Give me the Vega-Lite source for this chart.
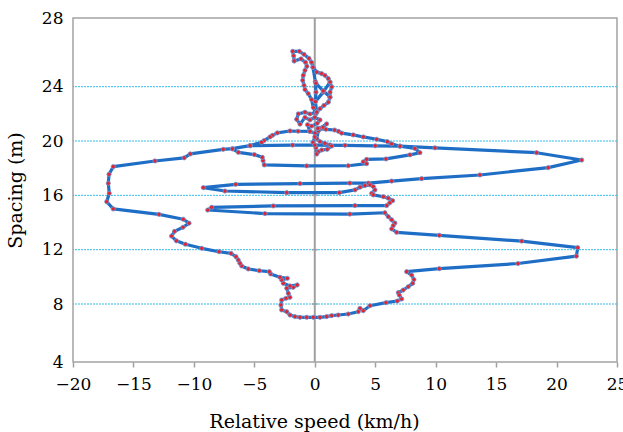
{
  "$schema": "https://vega.github.io/schema/vega-lite/v6.json",
  "width": 544,
  "height": 344,
  "autosize": {"type": "none"},
  "padding": {"left": 73, "top": 18, "right": 6, "bottom": 70},
  "background": "white",
  "config": {
    "view": {"stroke": "#a3a3a3", "strokeWidth": 1.5},
    "font": "DejaVu Serif, serif"
  },
  "datasets": {
    "grid": [{"spacing": 8}, {"spacing": 12}, {"spacing": 16}, {"spacing": 20}, {"spacing": 24}],
    "path": [
      {"s":1,"i":1,"speed":-1.7,"spacing":25.5},{"s":1,"i":2,"speed":-1.75,"spacing":25.8},{"s":1,"i":3,"speed":-1.83,"spacing":26.06},{"s":1,"i":4,"speed":-1.28,"spacing":26.06},{"s":1,"i":5,"speed":-0.89,"spacing":25.88},{"s":1,"i":6,"speed":-0.48,"spacing":25.65},{"s":1,"i":7,"speed":-0.27,"spacing":25.42},{"s":1,"i":8,"speed":-0.15,"spacing":25.13},{"s":1,"i":9,"speed":0.16,"spacing":24.85},{"s":1,"i":10,"speed":0.57,"spacing":24.76},{"s":1,"i":11,"speed":0.84,"spacing":24.66},{"s":1,"i":12,"speed":1.12,"spacing":24.47},{"s":1,"i":13,"speed":1.26,"spacing":24.27},{"s":1,"i":14,"speed":1.4,"spacing":23.98},{"s":1,"i":15,"speed":1.26,"spacing":23.6},{"s":1,"i":16,"speed":1.26,"spacing":23.23},{"s":1,"i":17,"speed":1.12,"spacing":22.86},{"s":1,"i":18,"speed":0.76,"spacing":22.62},{"s":1,"i":19,"speed":0.43,"spacing":22.38},{"s":1,"i":20,"speed":0.16,"spacing":22.13},
      {"s":2,"i":21,"speed":-1.7,"spacing":25.5},{"s":2,"i":22,"speed":-1.14,"spacing":25.62},{"s":2,"i":23,"speed":-0.77,"spacing":25.42},{"s":2,"i":24,"speed":-0.65,"spacing":25.19},{"s":2,"i":25,"speed":-0.81,"spacing":24.95},{"s":2,"i":26,"speed":-0.95,"spacing":24.66},{"s":2,"i":27,"speed":-1.0,"spacing":24.37},{"s":2,"i":28,"speed":-0.89,"spacing":24.08},{"s":2,"i":29,"speed":-0.81,"spacing":23.79},{"s":2,"i":30,"speed":-0.54,"spacing":23.49},{"s":2,"i":31,"speed":-0.26,"spacing":23.05},{"s":2,"i":32,"speed":-0.12,"spacing":22.46},{"s":2,"i":33,"speed":0.1,"spacing":22.0},
      {"s":3,"i":34,"speed":-0.15,"spacing":25.13},{"s":3,"i":35,"speed":0.05,"spacing":24.3},{"s":3,"i":36,"speed":0.1,"spacing":23.6},{"s":3,"i":37,"speed":0.05,"spacing":22.9},{"s":3,"i":38,"speed":0.16,"spacing":22.13},
      {"s":4,"i":39,"speed":0.05,"spacing":22.9},{"s":4,"i":40,"speed":0.7,"spacing":23.6},{"s":4,"i":41,"speed":1.26,"spacing":24.27},
      {"s":5,"i":42,"speed":0.1,"spacing":24.2},{"s":5,"i":43,"speed":0.7,"spacing":23.7},{"s":5,"i":44,"speed":1.26,"spacing":23.23},
      {"s":6,"i":45,"speed":0.16,"spacing":22.13},{"s":6,"i":46,"speed":-0.4,"spacing":21.99},{"s":6,"i":47,"speed":-0.81,"spacing":22.12},{"s":6,"i":48,"speed":-1.36,"spacing":22.0},{"s":6,"i":49,"speed":-1.5,"spacing":21.6},{"s":6,"i":50,"speed":-1.22,"spacing":21.24},{"s":6,"i":51,"speed":-0.81,"spacing":21.74},{"s":6,"i":52,"speed":-0.4,"spacing":21.55},{"s":6,"i":53,"speed":0.0,"spacing":21.75},{"s":6,"i":54,"speed":0.43,"spacing":21.55},{"s":6,"i":55,"speed":0.2,"spacing":21.3},{"s":6,"i":56,"speed":-0.26,"spacing":21.1},{"s":6,"i":57,"speed":-0.6,"spacing":21.2},{"s":6,"i":58,"speed":-0.4,"spacing":20.71},{"s":6,"i":59,"speed":0.02,"spacing":20.58},{"s":6,"i":60,"speed":0.43,"spacing":20.94},{"s":6,"i":61,"speed":0.98,"spacing":21.26},{"s":6,"i":62,"speed":0.7,"spacing":21.0},{"s":6,"i":63,"speed":0.3,"spacing":20.75},{"s":6,"i":64,"speed":0.16,"spacing":20.2},{"s":6,"i":65,"speed":0.43,"spacing":19.95},{"s":6,"i":66,"speed":0.84,"spacing":19.83},{"s":6,"i":67,"speed":1.26,"spacing":19.71},{"s":6,"i":68,"speed":1.4,"spacing":19.63},{"s":6,"i":69,"speed":1.03,"spacing":19.39},{"s":6,"i":70,"speed":0.57,"spacing":19.34},{"s":6,"i":71,"speed":0.29,"spacing":19.21},{"s":6,"i":72,"speed":0.16,"spacing":19.04},{"s":6,"i":73,"speed":0.1,"spacing":19.5},{"s":6,"i":74,"speed":-0.15,"spacing":19.9},{"s":6,"i":75,"speed":0.0,"spacing":20.3},{"s":6,"i":76,"speed":0.26,"spacing":20.93},
      {"s":7,"i":77,"speed":0.26,"spacing":20.93},{"s":7,"i":78,"speed":0.92,"spacing":20.86},{"s":7,"i":79,"speed":1.64,"spacing":20.81},{"s":7,"i":80,"speed":1.97,"spacing":20.71},{"s":7,"i":81,"speed":2.22,"spacing":20.58},{"s":7,"i":82,"speed":3.18,"spacing":20.45},{"s":7,"i":83,"speed":4.01,"spacing":20.3},{"s":7,"i":84,"speed":5.12,"spacing":20.13},{"s":7,"i":85,"speed":6.0,"spacing":19.96},{"s":7,"i":86,"speed":6.36,"spacing":19.79},{"s":7,"i":87,"speed":7.05,"spacing":19.62},
      {"s":8,"i":88,"speed":-0.4,"spacing":20.71},{"s":8,"i":89,"speed":-1.38,"spacing":20.72},{"s":8,"i":90,"speed":-2.05,"spacing":20.74},{"s":8,"i":91,"speed":-3.1,"spacing":20.6},{"s":8,"i":92,"speed":-3.5,"spacing":20.42},{"s":8,"i":93,"speed":-3.7,"spacing":20.3},{"s":8,"i":94,"speed":-4.2,"spacing":20.03},{"s":8,"i":95,"speed":-4.4,"spacing":19.9},{"s":8,"i":96,"speed":-5.35,"spacing":19.66},
      {"s":9,"i":97,"speed":-5.35,"spacing":19.66},{"s":9,"i":98,"speed":-1.83,"spacing":19.7},{"s":9,"i":99,"speed":0.0,"spacing":19.7},{"s":9,"i":100,"speed":2.5,"spacing":19.68},{"s":9,"i":101,"speed":5.0,"spacing":19.65},{"s":9,"i":102,"speed":7.05,"spacing":19.62},{"s":9,"i":103,"speed":9.94,"spacing":19.5},{"s":9,"i":104,"speed":18.35,"spacing":19.14},{"s":9,"i":105,"speed":22.08,"spacing":18.6},{"s":9,"i":106,"speed":19.31,"spacing":18.04},{"s":9,"i":107,"speed":13.66,"spacing":17.5},{"s":9,"i":108,"speed":8.84,"spacing":17.23},{"s":9,"i":109,"speed":6.36,"spacing":17.05},{"s":9,"i":110,"speed":4.43,"spacing":16.9},{"s":9,"i":111,"speed":2.9,"spacing":16.9},{"s":9,"i":112,"speed":-1.22,"spacing":16.87},{"s":9,"i":113,"speed":-6.54,"spacing":16.81},{"s":9,"i":114,"speed":-9.22,"spacing":16.57},{"s":9,"i":115,"speed":-7.43,"spacing":16.32},{"s":9,"i":116,"speed":-2.32,"spacing":16.2},{"s":9,"i":117,"speed":2.03,"spacing":16.2},{"s":9,"i":118,"speed":3.33,"spacing":16.4},{"s":9,"i":119,"speed":3.74,"spacing":16.6},{"s":9,"i":120,"speed":4.15,"spacing":16.72},{"s":9,"i":121,"speed":4.57,"spacing":16.77},{"s":9,"i":122,"speed":4.84,"spacing":16.65},{"s":9,"i":123,"speed":4.98,"spacing":16.4},{"s":9,"i":124,"speed":4.71,"spacing":16.15},{"s":9,"i":125,"speed":4.84,"spacing":16.03},{"s":9,"i":126,"speed":5.67,"spacing":15.9},{"s":9,"i":127,"speed":6.08,"spacing":15.79},{"s":9,"i":128,"speed":6.44,"spacing":15.61},{"s":9,"i":129,"speed":6.2,"spacing":15.45},{"s":9,"i":130,"speed":5.95,"spacing":15.25},{"s":9,"i":131,"speed":3.32,"spacing":15.25},{"s":9,"i":132,"speed":-3.43,"spacing":15.22},{"s":9,"i":133,"speed":-8.53,"spacing":15.12},{"s":9,"i":134,"speed":-8.86,"spacing":14.92},{"s":9,"i":135,"speed":-4.12,"spacing":14.66},{"s":9,"i":136,"speed":2.9,"spacing":14.62},{"s":9,"i":137,"speed":5.8,"spacing":14.72},{"s":9,"i":138,"speed":6.08,"spacing":14.43},{"s":9,"i":139,"speed":6.36,"spacing":14.2},{"s":9,"i":140,"speed":6.63,"spacing":13.96},{"s":9,"i":141,"speed":6.49,"spacing":13.77},{"s":9,"i":142,"speed":6.36,"spacing":13.53},{"s":9,"i":143,"speed":6.77,"spacing":13.28},{"s":9,"i":144,"speed":10.3,"spacing":13.06},{"s":9,"i":145,"speed":17.12,"spacing":12.63},{"s":9,"i":146,"speed":21.75,"spacing":12.15},{"s":9,"i":147,"speed":21.64,"spacing":11.52},{"s":9,"i":148,"speed":16.81,"spacing":10.98},{"s":9,"i":149,"speed":10.3,"spacing":10.6},{"s":9,"i":150,"speed":7.6,"spacing":10.38},{"s":9,"i":151,"speed":8.01,"spacing":10.13},{"s":9,"i":152,"speed":8.2,"spacing":9.8},{"s":9,"i":153,"speed":8.1,"spacing":9.52},{"s":9,"i":154,"speed":7.73,"spacing":9.27},{"s":9,"i":155,"speed":7.32,"spacing":9.03},{"s":9,"i":156,"speed":6.91,"spacing":8.83},{"s":9,"i":157,"speed":6.99,"spacing":8.66},{"s":9,"i":158,"speed":7.19,"spacing":8.37},{"s":9,"i":159,"speed":6.82,"spacing":8.22},{"s":9,"i":160,"speed":5.89,"spacing":8.1},{"s":9,"i":161,"speed":4.57,"spacing":7.88},{"s":9,"i":162,"speed":4.01,"spacing":7.54},{"s":9,"i":163,"speed":3.74,"spacing":7.7},{"s":9,"i":164,"speed":3.6,"spacing":7.47},{"s":9,"i":165,"speed":2.77,"spacing":7.31},{"s":9,"i":166,"speed":1.94,"spacing":7.24},{"s":9,"i":167,"speed":1.4,"spacing":7.2},{"s":9,"i":168,"speed":0.98,"spacing":7.13},{"s":9,"i":169,"speed":0.43,"spacing":7.08},{"s":9,"i":170,"speed":-0.12,"spacing":7.08},{"s":9,"i":171,"speed":-0.67,"spacing":7.08},{"s":9,"i":172,"speed":-1.22,"spacing":7.08},{"s":9,"i":173,"speed":-1.64,"spacing":7.13},{"s":9,"i":174,"speed":-2.05,"spacing":7.24},{"s":9,"i":175,"speed":-2.32,"spacing":7.47},{"s":9,"i":176,"speed":-2.74,"spacing":7.59},{"s":9,"i":177,"speed":-2.8,"spacing":7.93},{"s":9,"i":178,"speed":-2.74,"spacing":8.29},{"s":9,"i":179,"speed":-2.38,"spacing":8.42},{"s":9,"i":180,"speed":-2.05,"spacing":8.49},{"s":9,"i":181,"speed":-2.19,"spacing":8.79},{"s":9,"i":182,"speed":-2.32,"spacing":9.16},{"s":9,"i":183,"speed":-1.78,"spacing":9.23},{"s":9,"i":184,"speed":-1.45,"spacing":9.4},{"s":9,"i":185,"speed":-2.05,"spacing":9.33},{"s":9,"i":186,"speed":-2.6,"spacing":9.52},{"s":9,"i":187,"speed":-2.74,"spacing":9.77},{"s":9,"i":188,"speed":-2.27,"spacing":9.89},{"s":9,"i":189,"speed":-2.88,"spacing":9.97},{"s":9,"i":190,"speed":-3.65,"spacing":10.21},{"s":9,"i":191,"speed":-3.76,"spacing":10.38},{"s":9,"i":192,"speed":-4.59,"spacing":10.45},{"s":9,"i":193,"speed":-5.5,"spacing":10.58},{"s":9,"i":194,"speed":-6.05,"spacing":10.8},{"s":9,"i":195,"speed":-6.19,"spacing":11.0},{"s":9,"i":196,"speed":-6.33,"spacing":11.24},{"s":9,"i":197,"speed":-6.52,"spacing":11.48},{"s":9,"i":198,"speed":-6.93,"spacing":11.73},{"s":9,"i":199,"speed":-7.92,"spacing":11.85},{"s":9,"i":200,"speed":-9.35,"spacing":12.1},{"s":9,"i":201,"speed":-10.7,"spacing":12.4},{"s":9,"i":202,"speed":-11.45,"spacing":12.65},{"s":9,"i":203,"speed":-11.85,"spacing":13.0},{"s":9,"i":204,"speed":-11.6,"spacing":13.35},{"s":9,"i":205,"speed":-10.9,"spacing":13.65},{"s":9,"i":206,"speed":-10.4,"spacing":13.95},{"s":9,"i":207,"speed":-10.88,"spacing":14.24},{"s":9,"i":208,"speed":-12.89,"spacing":14.6},{"s":9,"i":209,"speed":-16.67,"spacing":15.0},{"s":9,"i":210,"speed":-17.21,"spacing":15.53},{"s":9,"i":211,"speed":-17.0,"spacing":16.15},{"s":9,"i":212,"speed":-17.08,"spacing":16.89},{"s":9,"i":213,"speed":-17.02,"spacing":17.55},{"s":9,"i":214,"speed":-16.67,"spacing":18.11},{"s":9,"i":215,"speed":-13.22,"spacing":18.53},{"s":9,"i":216,"speed":-10.8,"spacing":18.76},{"s":9,"i":217,"speed":-10.3,"spacing":19.05},{"s":9,"i":218,"speed":-7.57,"spacing":19.39},{"s":9,"i":219,"speed":-6.82,"spacing":19.44},{"s":9,"i":220,"speed":-5.35,"spacing":19.66},
      {"s":10,"i":221,"speed":7.05,"spacing":19.62},{"s":10,"i":222,"speed":8.28,"spacing":19.45},{"s":10,"i":223,"speed":8.7,"spacing":19.14},{"s":10,"i":224,"speed":7.87,"spacing":18.98},{"s":10,"i":225,"speed":5.89,"spacing":18.68},{"s":10,"i":226,"speed":4.29,"spacing":18.65},{"s":10,"i":227,"speed":4.01,"spacing":18.47},{"s":10,"i":228,"speed":4.29,"spacing":18.33},{"s":10,"i":229,"speed":2.77,"spacing":18.18},{"s":10,"i":230,"speed":-0.67,"spacing":18.17},{"s":10,"i":231,"speed":-4.18,"spacing":18.24},{"s":10,"i":232,"speed":-4.28,"spacing":18.56},{"s":10,"i":233,"speed":-4.34,"spacing":18.8},{"s":10,"i":234,"speed":-5.0,"spacing":19.0},{"s":10,"i":235,"speed":-6.32,"spacing":19.17},{"s":10,"i":236,"speed":-6.81,"spacing":19.42}
    ]
  },
  "layer": [
    {
      "data": {"name": "grid"},
      "mark": {"type": "rule", "color": "#35bde9", "strokeWidth": 1, "strokeDash": [2, 1]},
      "encoding": {
        "y": {"field": "spacing", "type": "quantitative", "title": "Spacing (m)",
              "scale": {"domain": [4, 8, 24, 28], "range": [344, 286, 68.7, 0], "nice": false, "zero": false}}
      }
    },
    {
      "data": {"values": [{}]},
      "mark": {"type": "rule", "color": "#a0a0a0", "strokeWidth": 2},
      "encoding": {
        "x": {"datum": 0, "type": "quantitative", "scale": {"domain": [-20, 25], "nice": false, "zero": false}}
      }
    },
    {
      "data": {"name": "grid"},
      "mark": {"type": "rule", "color": "#a0a0a0", "strokeWidth": 1.5},
      "encoding": {
        "x": {"datum": -0.25, "type": "quantitative", "scale": {"domain": [-20, 25], "nice": false, "zero": false}},
        "x2": {"datum": 0.25},
        "y": {"field": "spacing", "type": "quantitative", "title": "Spacing (m)",
              "scale": {"domain": [4, 8, 24, 28], "range": [344, 286, 68.7, 0], "nice": false, "zero": false}}
      }
    },
    {
      "data": {"name": "path"},
      "mark": {"type": "line", "color": "#1f6ec6", "strokeWidth": 3.2, "strokeJoin": "round"},
      "encoding": {
        "x": {"field": "speed", "type": "quantitative", "title": "Relative speed (km/h)",
              "scale": {"domain": [-20, 25], "nice": false, "zero": false},
              "axis": {"values": [-20, -15, -10, -5, 0, 5, 10, 15, 20, 25], "domain": false, "grid": false,
                       "tickColor": "#a0a0a0", "tickSize": 5, "tickWidth": 1.5,
                       "labelFont": "DejaVu Serif, serif", "labelFontSize": 17, "labelColor": "#000000", "labelPadding": 9,
                       "labelFlush": false, "labelOverlap": false,
                       "titleFont": "DejaVu Serif, serif", "titleFontSize": 19, "titleFontWeight": "normal", "titleColor": "#000000",
                       "titlePadding": 20, "titleX": 241}},
        "y": {"field": "spacing", "type": "quantitative", "title": "Spacing (m)",
              "scale": {"domain": [4, 8, 24, 28], "range": [344, 286, 68.7, 0], "nice": false, "zero": false},
              "axis": {"values": [4, 8, 12, 16, 20, 24, 28], "domain": false, "grid": false, "ticks": false,
                       "labelFont": "DejaVu Serif, serif", "labelFontSize": 17, "labelColor": "#000000", "labelPadding": 10,
                       "labelFlush": false, "labelOverlap": false,
                       "titleFont": "DejaVu Serif, serif", "titleFontSize": 19, "titleFontWeight": "normal", "titleColor": "#000000",
                       "titlePadding": 16}},
        "detail": {"field": "s", "type": "nominal"},
        "order": {"field": "i", "type": "quantitative"}
      }
    },
    {
      "data": {"name": "path"},
      "mark": {"type": "circle", "size": 18, "fill": "#e3232f", "stroke": "#6f9ad6", "strokeWidth": 0.8, "opacity": 1},
      "encoding": {
        "x": {"field": "speed", "type": "quantitative", "title": "Relative speed (km/h)",
              "scale": {"domain": [-20, 25], "nice": false, "zero": false}},
        "y": {"field": "spacing", "type": "quantitative", "title": "Spacing (m)",
              "scale": {"domain": [4, 8, 24, 28], "range": [344, 286, 68.7, 0], "nice": false, "zero": false}}
      }
    }
  ]
}
